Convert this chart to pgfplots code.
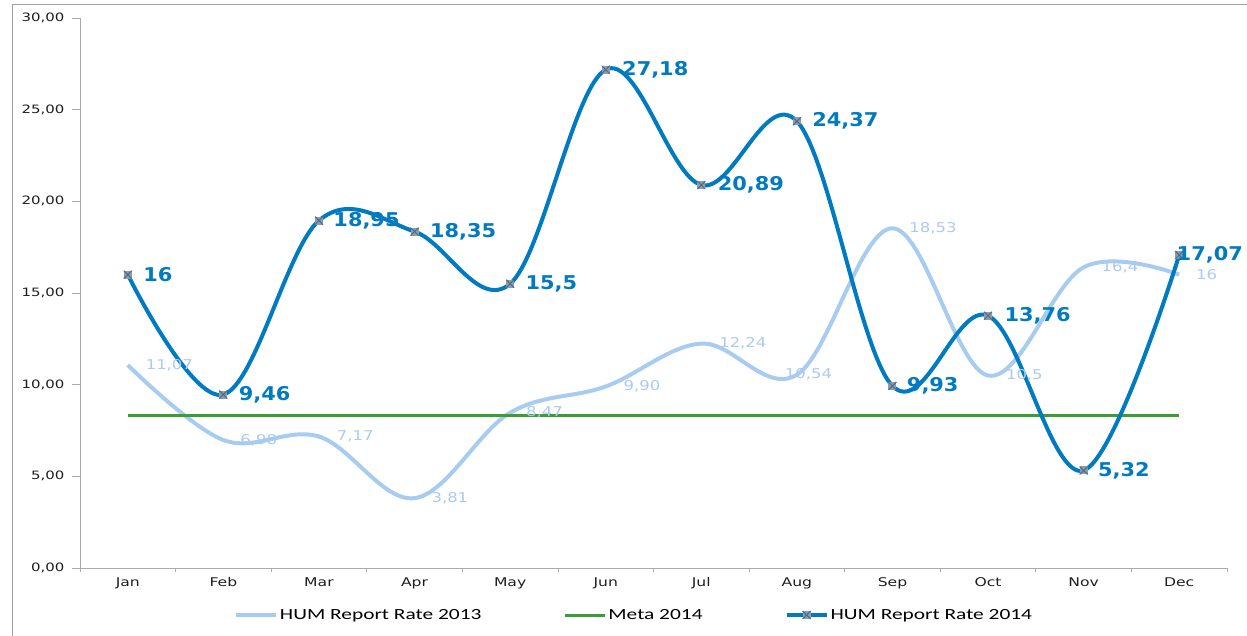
\documentclass[border=0pt]{standalone}
\usepackage{pgfplots}
\pgfplotsset{compat=1.18}
\usepackage{pgfplotstable}
\usepackage{fontspec}
\setmainfont{DejaVu Sans}
\newfontfamily\tickfont[FakeStretch=1.3]{DejaVu Sans}
\newfontfamily\lblfont[FakeStretch=1.22]{DejaVu Sans}
\newfontfamily\blbl[FakeStretch=1.1]{DejaVu Sans}
\newfontfamily\legfont[FakeStretch=1.38]{Carlito}

\definecolor{lblue}{RGB}{168,204,240}
\definecolor{lbltxt}{RGB}{170,202,240}
\definecolor{cblue}{RGB}{0,122,192}
\definecolor{cgreen}{RGB}{62,156,52}
\definecolor{mgray}{RGB}{145,155,165}
\definecolor{mx}{RGB}{70,110,150}
\definecolor{axgray}{RGB}{170,170,170}
\definecolor{frgray}{RGB}{160,160,160}
\definecolor{txt}{RGB}{30,30,30}

\pgfdeclareplotmark{sqx}{%
  \pgfpathrectangle{\pgfqpoint{-\pgfplotmarksize}{-\pgfplotmarksize}}{\pgfqpoint{2\pgfplotmarksize}{2\pgfplotmarksize}}%
  \pgfusepath{fill}%
  \pgfpathmoveto{\pgfqpoint{-\pgfplotmarksize}{-\pgfplotmarksize}}%
  \pgfpathlineto{\pgfqpoint{\pgfplotmarksize}{\pgfplotmarksize}}%
  \pgfpathmoveto{\pgfqpoint{-\pgfplotmarksize}{\pgfplotmarksize}}%
  \pgfpathlineto{\pgfqpoint{\pgfplotmarksize}{-\pgfplotmarksize}}%
  \pgfusepath{stroke}}

\pgfplotstableread{
x y dx label
0 11.07 16 11,07
1 6.98 15 6,98
2 7.17 16 7,17
3 3.81 15 3,81
4 8.47 14 8,47
5 9.90 16 9,90
6 12.24 16 12,24
7 10.54 -14 10,54
8 18.53 15 18,53
9 10.5 16 10,5
10 16.4 16 16,4
11 16 15 16
}\tableA

\pgfplotstableread{
x y
0 8.33
1 8.33
2 8.33
3 8.33
4 8.33
5 8.33
6 8.33
7 8.33
8 8.33
9 8.33
10 8.33
11 8.33
}\tableM

\pgfplotstableread{
x y dx label
0 16 15 16
1 9.46 15 9,46
2 18.95 14 18,95
3 18.35 15 18,35
4 15.5 15 15,5
5 27.18 16 27,18
6 20.89 16 20,89
7 24.37 15 24,37
8 9.93 14 9,93
9 13.76 16 13,76
10 5.32 14 5,32
11 17.07 -3 17,07
}\tableB

\begin{document}
\begin{tikzpicture}
\useasboundingbox (0pt,0pt) rectangle (1247pt,636pt);
\draw[frgray, line width=1pt] (12pt,0pt) -- (12pt,631pt) -- (1247pt,631pt);
\begin{axis}[
  at={(80pt,68pt)}, anchor=south west,
  scale only axis, width=1147pt, height=550pt,
  clip=false,
  xmin=-0.5, xmax=11.5, ymin=0, ymax=30,
  axis x line*=bottom, axis y line*=left,
  axis line style={axgray, line width=0.8pt, -},
  xtick={0,...,11},
  xticklabels={Jan,Feb,Mar,Apr,May,Jun,Jul,Aug,Sep,Oct,Nov,Dec},
  x tick style={draw=none},
  extra x ticks={-0.5,0.5,...,11.5},
  extra x tick labels={},
  extra x tick style={x tick style={draw=axgray, line width=0.8pt}, tick align=outside, major tick length=4pt},
  ytick={0,5,...,30},
  y tick style={draw=axgray, line width=0.8pt},
  ytick align=outside, major tick length=8pt,
  /pgf/number format/assume math mode=true,
  /pgf/number format/fixed,
  /pgf/number format/fixed zerofill,
  /pgf/number format/precision=2,
  /pgf/number format/use comma,
  yticklabel style={font=\tickfont\fontsize{11.5}{13}\selectfont, text=txt, xshift=-4pt},
  xticklabel style={font=\tickfont\fontsize{12}{14}\selectfont, text=txt, yshift=-6pt},
  legend columns=3,
  legend style={draw=none, fill=none, at={(0.483,-0.0855)}, anchor=center,
    font=\legfont\fontsize{15.5}{18}\selectfont, text=black,
    /tikz/every even column/.append style={column sep=80pt}},
  legend cell align=left,
  legend image code/.code={%
    \draw[mark repeat=2,mark phase=2,#1] plot coordinates {(0pt,0pt) (20pt,0pt) (40pt,0pt)};},
]
\addplot[lblue, line width=4pt, smooth, tension=0.6,
  point meta=explicit symbolic,
  visualization depends on={\thisrow{dx} \as \dx},
  nodes near coords,
  nodes near coords style={anchor=west, inner sep=0pt, xshift=\dx*1pt, text=lbltxt,
    font=\lblfont\fontsize{13.5}{15}\selectfont}]
  table[x=x, y=y, meta=label] {\tableA};
\addlegendentry{HUM Report Rate 2013}
\addplot[cgreen, line width=3pt] table[x=x, y=y] {\tableM};
\addlegendentry{Meta 2014}
\addplot[cblue, line width=4pt, smooth, tension=0.6,
  mark=sqx, mark size=4pt, mark options={fill=mgray, draw=mx, line width=1pt},
  point meta=explicit symbolic,
  visualization depends on={\thisrow{dx} \as \dx},
  nodes near coords,
  nodes near coords style={anchor=west, inner sep=0pt, xshift=\dx*1pt, text=cblue,
    font=\blbl\bfseries\fontsize{19}{21}\selectfont}]
  table[x=x, y=y, meta=label] {\tableB};
\addlegendentry{HUM Report Rate 2014}
\end{axis}
\end{tikzpicture}
\end{document}
